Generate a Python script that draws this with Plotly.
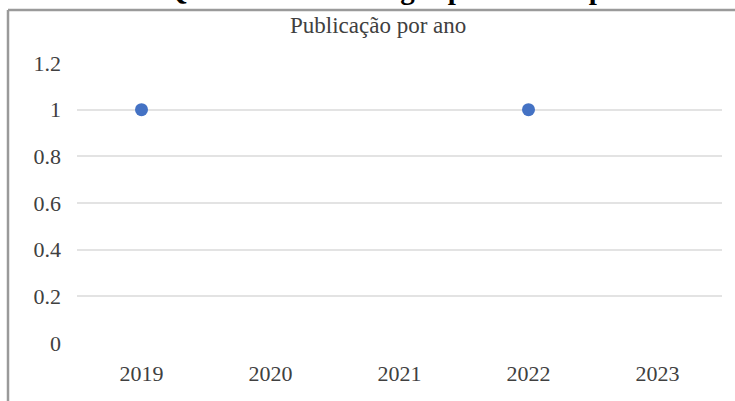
import plotly.graph_objects as go

years = ["2019", "2020", "2021", "2022", "2023"]
publicacoes = [1, None, None, 1, None]
y_ticks = [0, 0.2, 0.4, 0.6, 0.8, 1, 1.2]
y_tick_labels = ["0", "0.2", "0.4", "0.6", "0.8", "1", "1.2"]
chart_title = "Publicação por ano"
page_heading = "Quantidade de artigos publicados por ano"

W, H = 735, 401
L, R, T, B = 77, 13, 63, 58
pw, ph = W - L - R, H - T - B

def px_x(x):
    return (x - L) / pw

def px_y(y):
    return (H - B - y) / ph

fig = go.Figure()
fig.add_trace(go.Scatter(
    x=years, y=publicacoes, mode="markers",
    marker=dict(color="#4472C4", size=13),
    showlegend=False, cliponaxis=False,
))

serif = "Liberation Serif, Times New Roman, serif"
fig.update_layout(
    width=W, height=H,
    margin=dict(l=L, r=R, t=T, b=B, pad=0),
    paper_bgcolor="white", plot_bgcolor="white",
    font=dict(family=serif, size=22, color="#404040"),
    xaxis=dict(type="category", showgrid=False, zeroline=False, showline=False,
               ticks="", tickfont=dict(size=22, color="#404040"), ticklabelstandoff=15,
               range=[-0.5, 4.5]),
    yaxis=dict(range=[0, 1.2], tickvals=y_ticks, ticktext=y_tick_labels,
               showgrid=True, gridcolor="#e3e3e3", gridwidth=1.5,
               zeroline=False, showline=False, ticks="",
               tickfont=dict(size=22, color="#404040"), ticklabelstandoff=15),
    shapes=[
        dict(type="line", xref="paper", yref="paper",
             x0=px_x(8), x1=px_x(740), y0=px_y(10), y1=px_y(10),
             line=dict(color="#9a9a9a", width=2.5)),
        dict(type="line", xref="paper", yref="paper",
             x0=px_x(8), x1=px_x(8), y0=px_y(10), y1=px_y(405),
             line=dict(color="#9a9a9a", width=2.5)),
    ],
    annotations=[
        dict(text=chart_title, xref="paper", yref="paper",
             x=px_x(378), y=px_y(25), xanchor="center", yanchor="middle",
             showarrow=False, font=dict(family=serif, size=23, color="#404040")),
        dict(text="<b>" + page_heading + "</b>", xref="paper", yref="paper",
             x=px_x(163), y=px_y(7), xanchor="left", yanchor="bottom",
             showarrow=False, font=dict(family=serif, size=29, color="#000000")),
    ],
)

fig.write_html("out.html")
